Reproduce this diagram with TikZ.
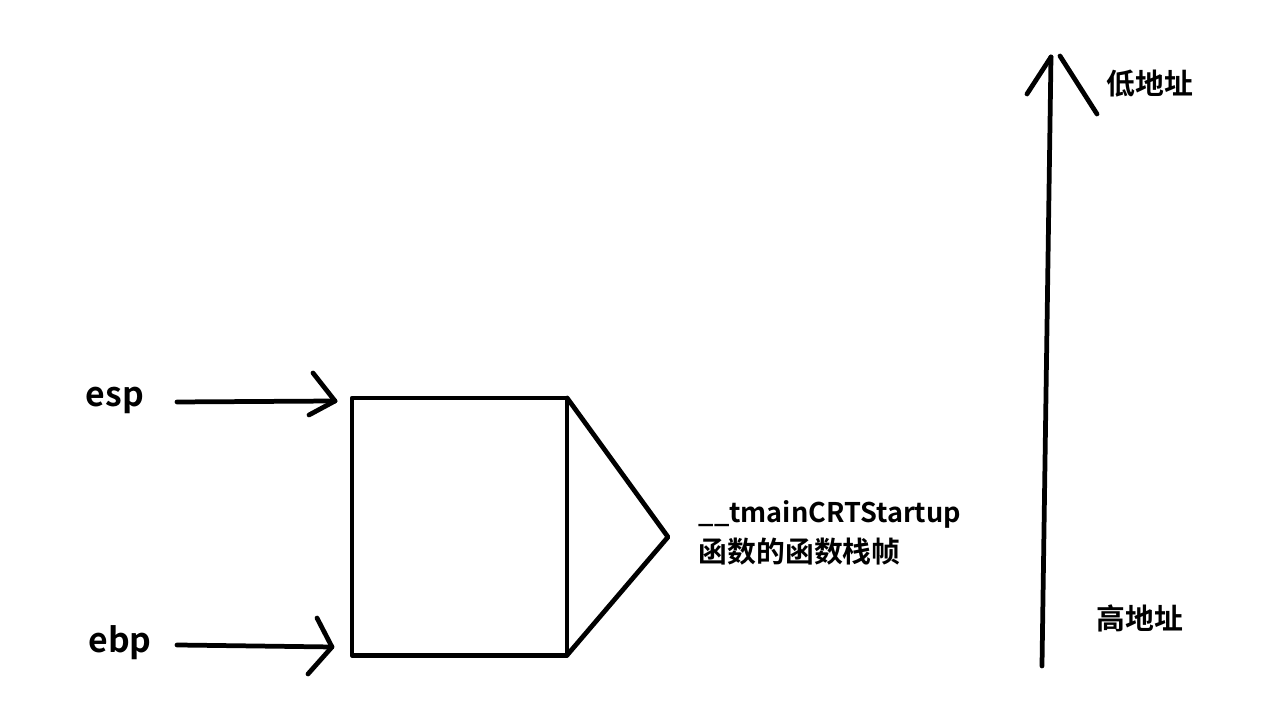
\documentclass[tikz,border=0pt]{standalone}
\usepackage{fontspec}
\setmainfont{Noto Sans CJK SC Bold}
\usetikzlibrary{positioning}
\tikzset{
  pen/.style={line width=1.35pt, line cap=round, line join=round},
  lbl/.style={inner sep=0pt, font=\fontsize{8.2pt}{11.3pt}\selectfont},
  reg/.style={inner sep=0pt, font=\fontsize{9.6pt}{11pt}\selectfont}
}
\begin{document}
\begin{tikzpicture}[x=0.01cm, y=-0.01cm]
  \useasboundingbox (0,0) rectangle (1262,707);
  % stack frame
  \node[pen, draw, minimum width=2.15cm, minimum height=2.57cm, inner sep=0pt,
        outer sep=0pt, anchor=north west] (frame) at (352,398) {};
  \coordinate (brace) at (668,537);
  \draw[pen] (frame.north east) -- (brace) -- (frame.south east);
  \node[lbl, anchor=north west, align=left] (name) at (698,500)
    {{\fontsize{7.7pt}{11.3pt}\selectfont\_\_tmainCRTStartup}\\函数的函数栈帧};

  % esp
  \node[reg] (esp) at (115,400) {esp};
  \coordinate (esptail) at (177,402);
  \coordinate (esptip) at (335,401);
  \draw[pen] (esptail) -- (esptip);
  \draw[pen] (313,373) -- (esptip) -- (309,415);

  % ebp
  \node[reg] (ebp) at (120,643) {ebp};
  \coordinate (ebptail) at (177,645);
  \coordinate (ebptip) at (332,647);
  \draw[pen] (ebptail) -- (ebptip);
  \draw[pen] (317,618) -- (ebptip) -- (308,674);

  % address axis
  \coordinate (high) at (1042,666);
  \coordinate (low) at (1051,57);
  \draw[pen] (high) -- (low);
  \draw[pen] (1027,94) -- (low);
  \draw[pen] (1060,56) -- (1097,114);
  \node[lbl] (lowaddr) at (1150,84) {低地址};
  \node[lbl] (highaddr) at (1140,618) {高地址};
\end{tikzpicture}
\end{document}
